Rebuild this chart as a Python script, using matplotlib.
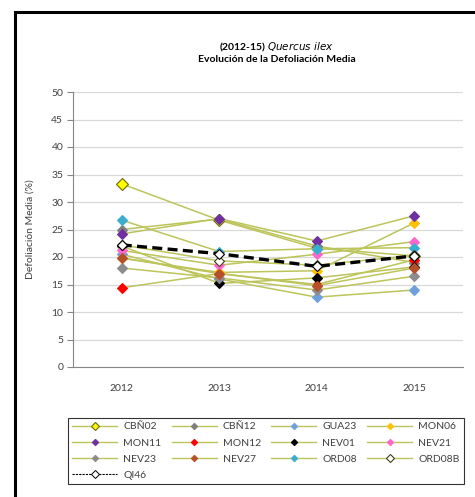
import matplotlib
matplotlib.use("Agg")
import matplotlib.pyplot as plt
from matplotlib.patches import Rectangle
from matplotlib.lines import Line2D

plt.rcParams['font.family'] = ['Lato', 'DejaVu Sans']

years = ["2012", "2013", "2014", "2015"]
CBN02 = [33.3, 26.7, 21.6, 20.2]
CBN12 = [25.0, 26.9, 22.0, 19.0]
GUA23 = [20.5, 16.0, 12.7, 14.0]
MON06 = [19.8, 17.2, 17.5, 26.2]
MON11 = [24.2, 27.0, 22.9, 27.5]
MON12 = [14.4, 17.0, 15.0, 19.5]
NEV01 = [22.0, 15.2, 16.2, 18.2]
NEV21 = [21.2, 18.5, 20.5, 22.8]
NEV23 = [18.0, 16.2, 14.0, 16.5]
NEV27 = [19.8, 17.0, 14.8, 18.0]
ORD08 = [26.7, 21.0, 21.5, 21.7]
ORD08B = [22.2, 19.3, 18.5, 20.3]
QI46 = [22.2, 20.6, 18.3, 20.2]

series = [
    ("CBÑ02", CBN02, "#FFFF00", "#6B6B00", 6),
    ("CBÑ12", CBN12, "#7F7F7F", "#7F7F7F", 4.6),
    ("GUA23", GUA23, "#6FA0DC", "#6FA0DC", 4.6),
    ("MON06", MON06, "#FFC000", "#FFC000", 4.6),
    ("MON11", MON11, "#7030A0", "#7030A0", 4.6),
    ("MON12", MON12, "#FF0000", "#FF0000", 4.6),
    ("NEV01", NEV01, "#000000", "#000000", 4.6),
    ("NEV21", NEV21, "#FF66CC", "#FF66CC", 4.6),
    ("NEV23", NEV23, "#8C8C8C", "#8C8C8C", 4.6),
    ("NEV27", NEV27, "#B5502A", "#B5502A", 4.6),
    ("ORD08", ORD08, "#3AAED0", "#3AAED0", 4.6),
    ("ORD08B", ORD08B, "#FFFFFF", "#404020", 5),
]

W, H = 475, 497
fig = plt.figure(figsize=(W / 100, H / 100), dpi=100)
fig.patch.set_facecolor("white")

# outer frame
fig.patches.append(Rectangle((15 / W, -0.05), 1.2, (H - 12) / H + 0.05,
                             transform=fig.transFigure, fill=False,
                             edgecolor="black", linewidth=2.2, zorder=10))

ax = fig.add_axes([73 / W, 1 - 367 / H, (463 - 73) / W, (367 - 92) / H])
x = list(range(len(years)))
line_col = "#BCC45A"
leg_handles = {}
for name, vals, fc, ec, ms in series:
    ax.plot(x, vals, color=line_col, lw=1.1, marker="D", ms=ms,
            markerfacecolor=fc, markeredgecolor=ec, markeredgewidth=0.8,
            zorder=3)
    leg_handles[name] = Line2D([], [], color=line_col, lw=1.0, marker="D",
                               ms=3.2 if name not in ("CBÑ02", "ORD08B") else 4,
                               markerfacecolor=fc, markeredgecolor=ec,
                               markeredgewidth=0.8, label=name)
ax.plot(x, QI46, color="black", lw=2.4, ls=(0, (3, 1.6)), marker="D", ms=5,
        markerfacecolor="white", markeredgecolor="black", markeredgewidth=0.8,
        zorder=4)
leg_handles["QI46"] = Line2D([], [], color="black", lw=0.8, ls=(0, (2, 1)),
                             marker="D", ms=4, markerfacecolor="white",
                             markeredgecolor="black", markeredgewidth=0.7,
                             label="QI46")

ax.set_xlim(-0.5, 3.5)
ax.set_ylim(0, 50)
ax.set_yticks(range(0, 51, 5))
ax.set_xticks(x)
ax.set_xticklabels(years)
ax.yaxis.grid(True, color="#D9D9D9", lw=0.9)
ax.set_axisbelow(True)
for s in ["top", "right"]:
    ax.spines[s].set_visible(False)
ax.spines["left"].set_color("#868686")
ax.spines["bottom"].set_color("#868686")
ax.tick_params(axis="y", direction="out", length=4, color="#868686",
               labelsize=7.5, labelcolor="#404040", pad=3)
ax.tick_params(axis="x", length=0, labelsize=7.5, labelcolor="#404040", pad=12)
ax.set_ylabel("Defoliación Media (%)", fontsize=7.5, color="#404040", labelpad=12)

fig.text(277 / W, 1 - 47 / H, r"(2012-15) $\it{Quercus\ ilex}$", ha="center",
         va="center", fontsize=7.5, fontweight="bold")
fig.text(277 / W, 1 - 60 / H, "Evolución de la Defoliación Media", ha="center",
         va="center", fontsize=7.5, fontweight="bold")

# column-major order so the legend reads row by row
order = ["CBÑ02", "MON11", "NEV23", "QI46",
         "CBÑ12", "MON12", "NEV27",
         "GUA23", "NEV01", "ORD08",
         "MON06", "NEV21", "ORD08B"]
handles = [leg_handles[n] for n in order]
leg = fig.legend(handles=handles, loc="upper left", ncol=4,
                 bbox_to_anchor=(68 / W, 1 - 418 / H), borderaxespad=0,
                 fontsize=7.5, frameon=True, fancybox=False, edgecolor="black",
                 handlelength=4.3, columnspacing=1.0, labelspacing=0.66,
                 borderpad=0.4, handletextpad=0.6, labelcolor="#404040")
leg.get_frame().set_linewidth(0.8)

fig.savefig("out.png", dpi=100, facecolor="white")
